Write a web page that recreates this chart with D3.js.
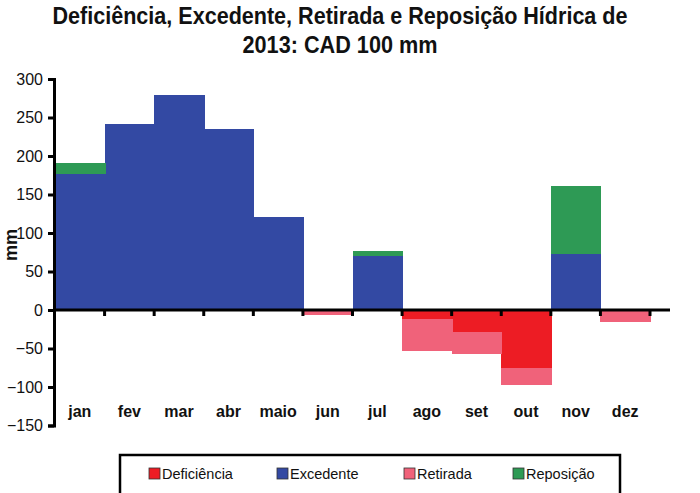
<!DOCTYPE html>
<html><head><meta charset="utf-8">
<script src="https://cdn.jsdelivr.net/npm/d3@7/dist/d3.min.js"></script>
<style>body{margin:0;background:#fff}svg{display:block}</style>
</head><body>
<svg id="c" width="700" height="493"></svg>
<script>
const months = ["jan","fev","mar","abr","maio","jun","jul","ago","set","out","nov","dez"];
const deficiencia = [0,0,0,0,0,0,0,-12,-29,-75.5,0,0];
const excedente = [176,242,279,235,120.6,0,69.5,0,0,0,72.5,0];
const retirada = [0,0,0,0,0,-6,0,-41,-28,-22.5,0,-15];
const reposicao = [15.5,0,0,0,0,0,7,0,0,0,88,0];
const yTicks = [300,250,200,150,100,50,0,-50,-100,-150];
const seriesNames = ["Deficiência","Excedente","Retirada","Reposição"];
const colors = {"Deficiência":"#ED1C24","Excedente":"#3349A3","Retirada":"#F0627A","Reposição":"#2E9A55"};

const table = months.map((m,i)=>({month:m,"Deficiência":deficiencia[i],"Excedente":excedente[i],"Retirada":retirada[i],"Reposição":reposicao[i]}));
const svg = d3.select("#c");
const x = d3.scaleBand().domain(months).range([55,650]).padding(0);
const y = d3.scaleLinear().domain([-150,300]).range([425.5,79]);

const stack = d3.stack().keys(seriesNames).offset(d3.stackOffsetDiverging);
const layers = stack(table);

svg.append("g").attr("shape-rendering","crispEdges").selectAll("g").data(layers).join("g")
  .attr("fill",d=>colors[d.key])
  .selectAll("rect").data(d=>d).join("rect")
  .attr("x",d=>x(d.data.month))
  .attr("width",x.bandwidth()+1)
  .attr("y",d=>y(Math.max(d[0],d[1])))
  .attr("height",d=>Math.abs(y(d[0])-y(d[1])));

// Title
const title = svg.append("text").attr("text-anchor","middle")
  .style("font-family","'Liberation Sans Narrow','Arial Narrow','Liberation Sans',Arial,sans-serif")
  .style("font-weight","bold").style("font-size","23px").attr("fill","#111");
title.append("tspan").attr("x",340).attr("y",24).attr("textLength",575).attr("lengthAdjust","spacingAndGlyphs")
  .text("Deficiência, Excedente, Retirada e Reposição Hídrica de");
title.append("tspan").attr("x",340).attr("y",53).attr("textLength",195).attr("lengthAdjust","spacingAndGlyphs")
  .text("2013: CAD 100 mm");

// Y axis
const yAxis = svg.append("g").attr("transform","translate(54,0)")
  .call(d3.axisLeft(y).tickValues(yTicks).tickSize(6).tickPadding(5));
yAxis.select(".domain").attr("stroke","#000").attr("stroke-width",3);
yAxis.selectAll(".tick line").attr("stroke","#000").attr("stroke-width",3);
yAxis.selectAll(".tick text").style("font-family","'Liberation Sans',Arial,sans-serif").style("font-size","16px").attr("fill","#111");

// X axis at zero
const xAxisG = svg.append("g").attr("transform",`translate(0,${y(0)})`);
xAxisG.append("line").attr("x1",54).attr("x2",670).attr("stroke","#000").attr("stroke-width",3);
xAxisG.selectAll("line.t").data(months).join("line").attr("class","t")
  .attr("x1",d=>x(d)+x.bandwidth()).attr("x2",d=>x(d)+x.bandwidth())
  .attr("y1",0).attr("y2",6).attr("stroke","#000").attr("stroke-width",3);

svg.append("g").selectAll("text").data(months).join("text")
  .attr("x",d=>x(d)+x.bandwidth()/2).attr("y",417).attr("text-anchor","middle")
  .style("font-family","'Liberation Sans',Arial,sans-serif").style("font-weight","bold").style("font-size","16px")
  .attr("fill","#111").text(d=>d);

// Y label
svg.append("text").attr("transform","translate(17,245) rotate(-90)").attr("text-anchor","middle")
  .style("font-family","'Liberation Sans',Arial,sans-serif").style("font-weight","bold").style("font-size","18px")
  .attr("fill","#111").text("mm");

// Legend
svg.append("rect").attr("x",120).attr("y",455).attr("width",500).attr("height",50)
  .attr("fill","#fff").attr("stroke","#000").attr("stroke-width",2.5);
const legX = [149,277,404,513];
const leg = svg.append("g").selectAll("g").data(seriesNames).join("g")
  .attr("transform",(d,i)=>`translate(${legX[i]},468)`);
leg.append("rect").attr("width",11).attr("height",11).attr("fill",d=>colors[d]).attr("stroke","#333").attr("stroke-width",0.8);
leg.append("text").attr("x",13).attr("y",10.5)
  .style("font-family","'Liberation Sans',Arial,sans-serif").style("font-size","14.5px").attr("fill","#111").text(d=>d);
</script>
</body></html>
